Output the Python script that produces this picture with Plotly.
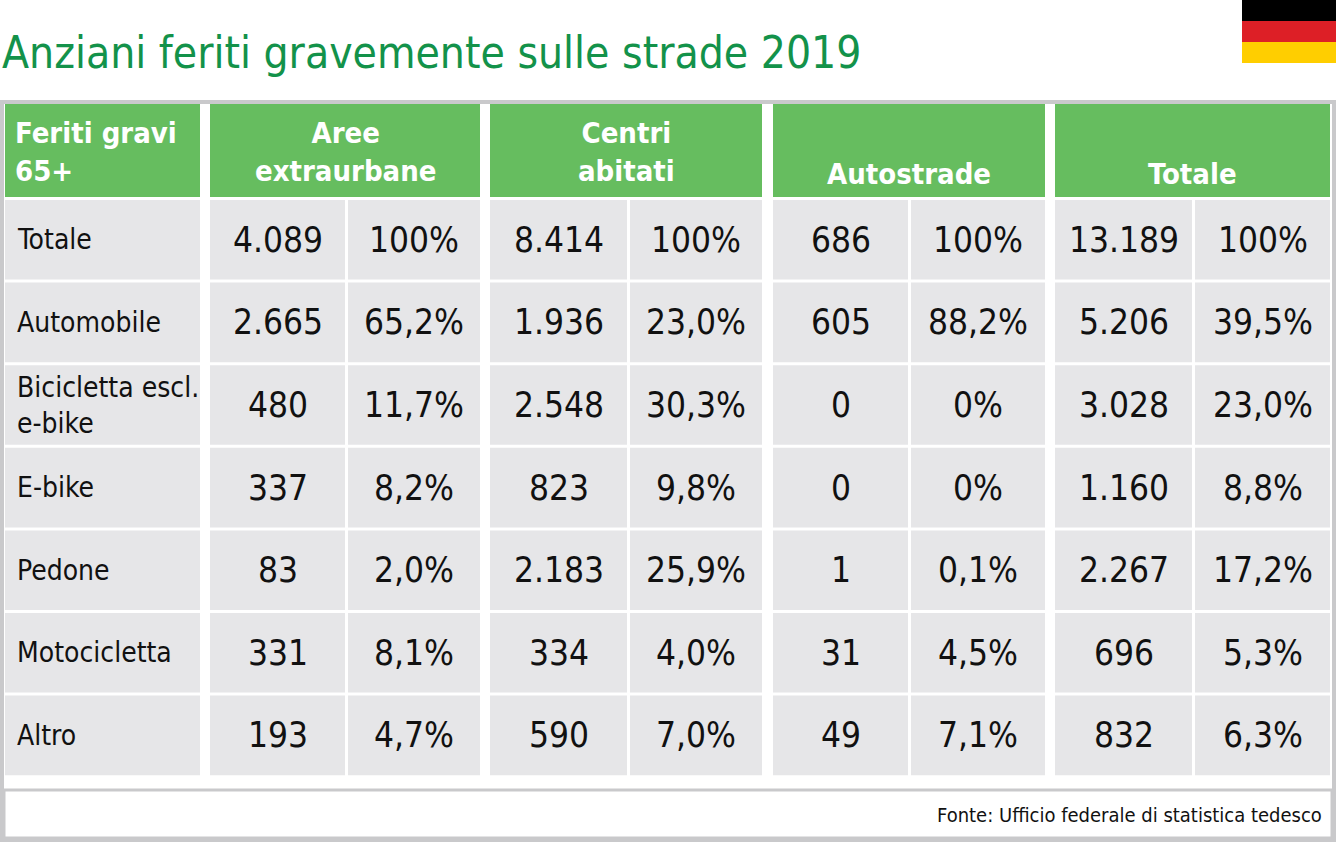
import plotly.graph_objects as go

# Data
title = "Anziani feriti gravemente sulle strade 2019"
source = "Fonte: Ufficio federale di statistica tedesco"
corner_header = "Feriti gravi<br>65+"
group_headers = ["Aree<br>extraurbane", "Centri<br>abitati", "Autostrade", "Totale"]
row_labels = ["Totale", "Automobile", "Bicicletta escl.<br>e-bike", "E-bike",
              "Pedone", "Motocicletta", "Altro"]
aree_n = ["4.089", "2.665", "480", "337", "83", "331", "193"]
aree_p = ["100%", "65,2%", "11,7%", "8,2%", "2,0%", "8,1%", "4,7%"]
centri_n = ["8.414", "1.936", "2.548", "823", "2.183", "334", "590"]
centri_p = ["100%", "23,0%", "30,3%", "9,8%", "25,9%", "4,0%", "7,0%"]
auto_n = ["686", "605", "0", "0", "1", "31", "49"]
auto_p = ["100%", "88,2%", "0%", "0%", "0,1%", "4,5%", "7,1%"]
tot_n = ["13.189", "5.206", "3.028", "1.160", "2.267", "696", "832"]
tot_p = ["100%", "39,5%", "23,0%", "8,8%", "17,2%", "5,3%", "6,3%"]

columns = [aree_n, aree_p, centri_n, centri_p, auto_n, auto_p, tot_n, tot_p]

GREEN = "#66bd5f"
GREY = "#e6e6e8"
BORDER = "#c9c9cb"
FAM = "DejaVu Sans"


def fnt(size, color="#111", weight="normal"):
    return dict(size=size, color=color, family=FAM, weight=weight)


label_x = (5, 200)
sub_x = [(210, 345), (348, 480), (490, 627), (630, 762),
         (773, 908), (911, 1045), (1055, 1192), (1195, 1330)]
head_y = (104, 197)
row_top, pitch, row_h = 200, 82.6, 79.6

fig = go.Figure()
shapes = []
annotations = []

# outer frame
shapes.append(dict(type="rect", x0=2, x1=1334, y0=102, y1=840,
                   line=dict(color=BORDER, width=4), fillcolor="white", layer="below"))

# header cells
shapes.append(dict(type="rect", x0=label_x[0], x1=label_x[1], y0=head_y[0], y1=head_y[1],
                   fillcolor=GREEN, line_width=0, layer="below"))
annotations.append(dict(x=13, y=152, text=corner_header, xanchor="left",
                        align="left", font=fnt(29, "white", "bold")))
for g, txt in enumerate(group_headers):
    x0, x1 = sub_x[2 * g][0], sub_x[2 * g + 1][1]
    shapes.append(dict(type="rect", x0=x0, x1=x1, y0=head_y[0], y1=head_y[1],
                       fillcolor=GREEN, line_width=0, layer="below"))
    yh = 152 if "<br>" in txt else 174
    annotations.append(dict(x=(x0 + x1) / 2, y=yh, text=txt, font=fnt(29, "white", "bold")))

# data rows
for i, lab in enumerate(row_labels):
    y0 = row_top + i * pitch
    y1 = y0 + row_h
    yc = (y0 + y1) / 2
    shapes.append(dict(type="rect", x0=label_x[0], x1=label_x[1], y0=y0, y1=y1,
                       fillcolor=GREY, line_width=0, layer="below"))
    annotations.append(dict(x=15, y=yc, text=lab, xanchor="left", align="left",
                            font=fnt(28)))
    for j, col in enumerate(columns):
        x0, x1 = sub_x[j]
        shapes.append(dict(type="rect", x0=x0, x1=x1, y0=y0, y1=y1,
                           fillcolor=GREY, line_width=0, layer="below"))
        annotations.append(dict(x=(x0 + x1) / 2, y=yc, text=col[i], font=fnt(35)))

# footer
shapes.append(dict(type="rect", x0=4, x1=1332, y0=790, y1=838, fillcolor="white",
                   line=dict(color=BORDER, width=3), layer="below"))
annotations.append(dict(x=1324, y=815, text=source, xanchor="right", font=fnt(20)))

# title
annotations.append(dict(x=0, y=52, text=title, xanchor="left", font=fnt(44, "#13924a")))

# flag
for k, c in enumerate(["#000000", "#dd1f26", "#ffce00"]):
    shapes.append(dict(type="rect", x0=1242, x1=1336, y0=k * 21, y1=(k + 1) * 21,
                       fillcolor=c, line_width=0))

for a in annotations:
    a.update(xref="x", yref="y", showarrow=False)

fig.update_layout(
    width=1336, height=845, margin=dict(l=0, r=0, t=0, b=0),
    paper_bgcolor="white", plot_bgcolor="white",
    xaxis=dict(range=[0, 1336], visible=False, fixedrange=True),
    yaxis=dict(range=[845, 0], visible=False, fixedrange=True),
    shapes=shapes, annotations=annotations, showlegend=False,
)

# condensed face + no page margin; nudge font sizes so text boxes get re-measured
post = """
var s = document.createElement('style');
s.textContent = 'body{margin:0;overflow:hidden} svg text{font-stretch:condensed !important}';
document.head.appendChild(s);
var gd = document.getElementById('{plot_id}');
var anns = JSON.parse(JSON.stringify(gd.layout.annotations));
anns.forEach(function(a){ a.font.size = a.font.size + 0.01; });
Plotly.relayout(gd, {annotations: anns});
"""
fig.write_html("out.html", config={"displayModeBar": False}, post_script=post)
